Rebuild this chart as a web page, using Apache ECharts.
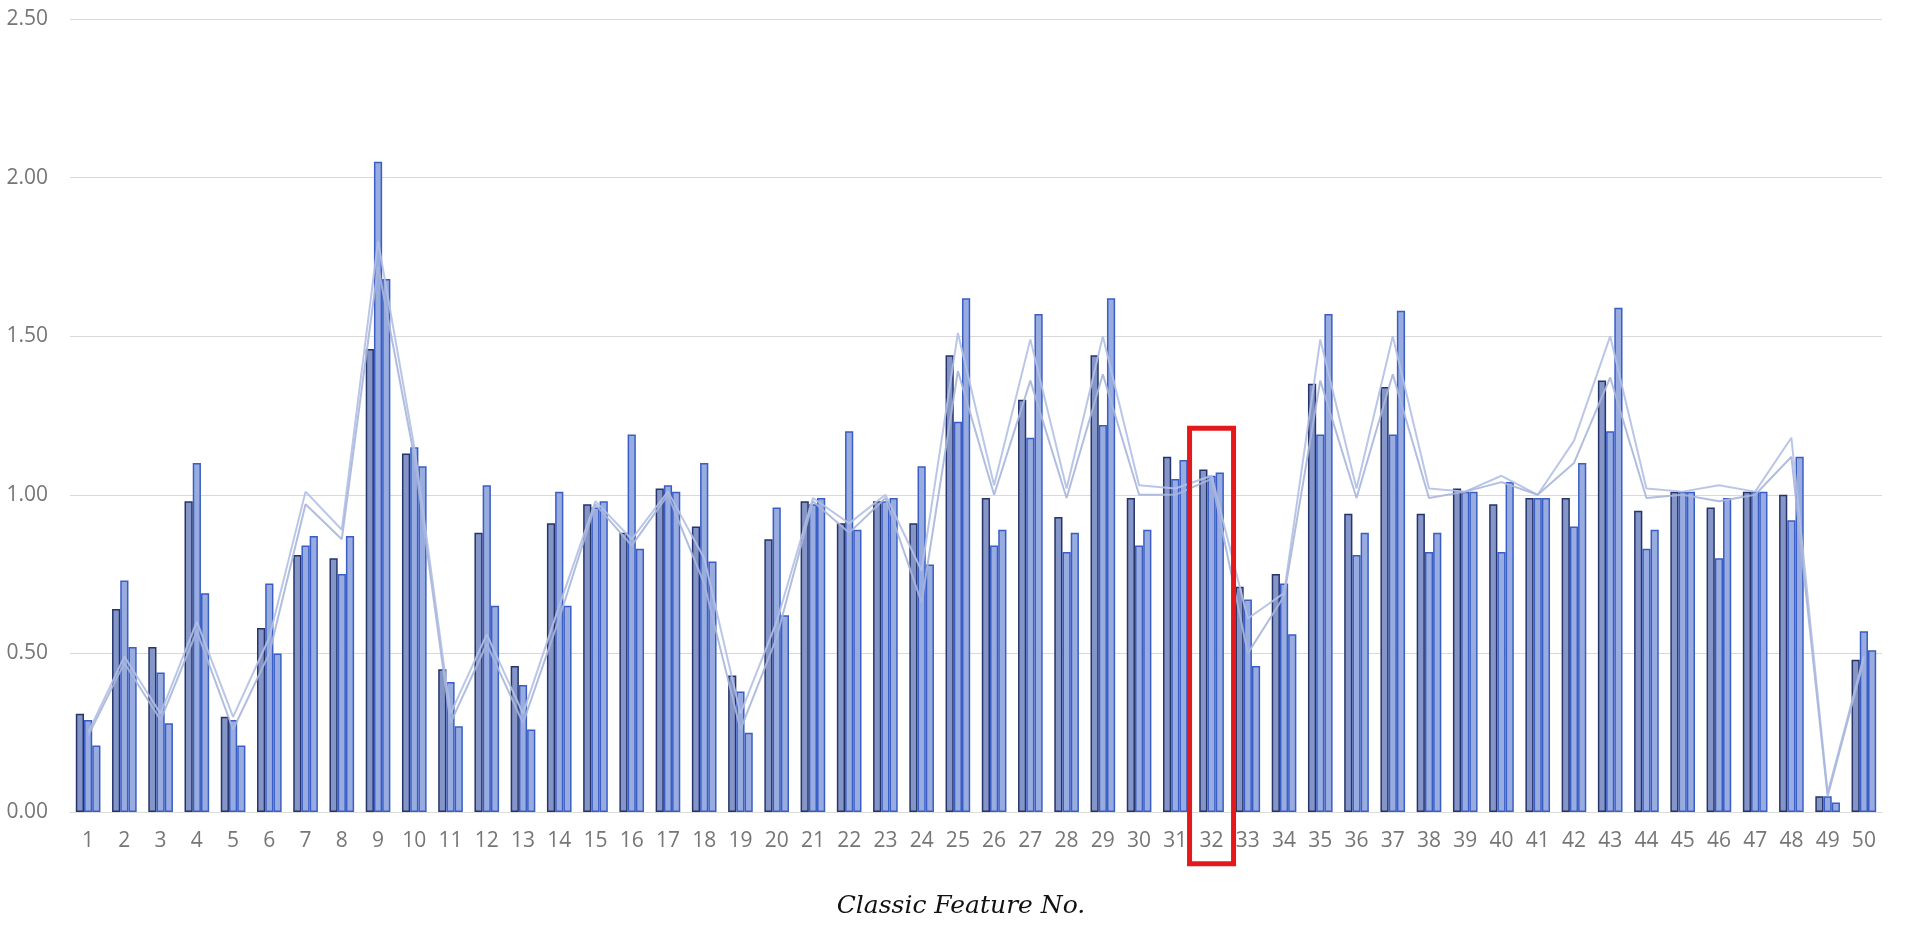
<!DOCTYPE html>
<html>
<head>
<meta charset="utf-8">
<script src="https://cdn.jsdelivr.net/npm/echarts@6/dist/echarts.min.js"></script>
<style>
html,body{margin:0;padding:0;background:#fff;}
#chart{width:1905px;height:925px;}
</style>
</head>
<body>
<div id="chart"></div>
<script>
const categories = Array.from({length: 50}, (_, i) => String(i + 1));
const yTicks = [0, 0.5, 1.0, 1.5, 2.0, 2.5];

const barA = [0.31,0.64,0.52,0.98,0.30,0.58,0.81,0.80,1.46,1.13,
              0.45,0.88,0.46,0.91,0.97,0.88,1.02,0.90,0.43,0.86,
              0.98,0.91,0.98,0.91,1.44,0.99,1.30,0.93,1.44,0.99,
              1.12,1.08,0.71,0.75,1.35,0.94,1.34,0.94,1.02,0.97,
              0.99,0.99,1.36,0.95,1.01,0.96,1.01,1.00,0.05,0.48];
const barB = [0.29,0.73,0.44,1.10,0.29,0.72,0.84,0.75,2.05,1.15,
              0.41,1.03,0.40,1.01,0.96,1.19,1.03,1.10,0.38,0.96,
              0.97,1.20,0.98,1.09,1.23,0.84,1.18,0.82,1.22,0.84,
              1.05,1.06,0.67,0.72,1.19,0.81,1.19,0.82,1.01,0.82,
              0.99,0.90,1.20,0.83,1.01,0.80,1.01,0.92,0.05,0.57];
const barC = [0.21,0.52,0.28,0.69,0.21,0.50,0.87,0.87,1.68,1.09,
              0.27,0.65,0.26,0.65,0.98,0.83,1.01,0.79,0.25,0.62,
              0.99,0.89,0.99,0.78,1.62,0.89,1.57,0.88,1.62,0.89,
              1.11,1.07,0.46,0.56,1.57,0.88,1.58,0.88,1.01,1.04,
              0.99,1.10,1.59,0.89,1.01,0.99,1.01,1.12,0.03,0.51];
const lineA = [0.25,0.49,0.31,0.60,0.30,0.55,1.01,0.89,1.80,1.15,
               0.31,0.56,0.31,0.65,0.98,0.86,1.01,0.80,0.31,0.60,
               0.99,0.91,1.00,0.76,1.51,1.03,1.49,1.02,1.50,1.03,
               1.02,1.06,0.61,0.69,1.49,1.02,1.50,1.02,1.01,1.06,
               1.00,1.17,1.50,1.02,1.01,1.03,1.01,1.18,0.06,0.49];
const lineB = [0.24,0.47,0.29,0.57,0.26,0.50,0.97,0.86,1.72,1.12,
               0.28,0.53,0.28,0.61,0.97,0.84,1.00,0.72,0.26,0.55,
               0.98,0.88,0.99,0.66,1.39,1.00,1.36,0.99,1.38,1.00,
               1.00,1.05,0.50,0.68,1.36,0.99,1.38,0.99,1.01,1.04,
               1.00,1.10,1.37,0.99,1.00,0.98,1.00,1.12,0.05,0.48];
const highlightCategory = '32';
const highlightTop = 1.21;
const highlightBottom = -0.163;

const chart = echarts.init(document.getElementById('chart'), null, {renderer: 'canvas'});

const barStyle1 = {color: '#8595c8', borderColor: '#25356a', borderWidth: 1.5};
const barStyle2 = {color: '#98acdf', borderColor: '#3a5ec6', borderWidth: 1.5};

const option = {
  animation: false,
  backgroundColor: '#ffffff',
  grid: {left: 70, right: 23, top: 19, bottom: 113, containLabel: false},
  xAxis: {
    type: 'category',
    data: categories,
    axisTick: {show: false},
    axisLine: {show: true, lineStyle: {color: '#dcdcdc', width: 1}},
    axisLabel: {color: '#767676', fontSize: 21, fontFamily: 'Open Sans', margin: 19},
    name: 'Classic Feature No.',
    nameLocation: 'middle',
    nameGap: 82,
    nameTextStyle: {fontFamily: 'DejaVu Serif', fontStyle: 'italic', fontSize: 25, color: '#111',
                    padding: [0, 30, 0, 0]}
  },
  yAxis: {
    type: 'value',
    min: yTicks[0],
    max: yTicks[yTicks.length - 1],
    interval: 0.5,
    axisLine: {show: false},
    axisTick: {show: false},
    splitLine: {lineStyle: {color: '#d9d9d9', width: 1}},
    axisLabel: {color: '#767676', fontSize: 21, fontFamily: 'Open Sans', margin: 22,
                formatter: v => v.toFixed(2)}
  },
  series: [
    {type: 'bar', data: barA, itemStyle: barStyle1, barGap: '0%', barCategoryGap: '32%', z: 2},
    {type: 'bar', data: barB, itemStyle: barStyle2, barGap: '0%', barCategoryGap: '32%', z: 2},
    {type: 'bar', data: barC, itemStyle: barStyle2, barGap: '0%', barCategoryGap: '32%', z: 2},
    {type: 'line', data: lineA, symbol: 'none', z: 5,
     lineStyle: {color: '#b3c0e6', width: 2, opacity: 0.9}},
    {type: 'line', data: lineB, symbol: 'none', z: 5,
     lineStyle: {color: '#a9b6dc', width: 2, opacity: 0.9}}
  ]
};
chart.setOption(option);

const cx = chart.convertToPixel({xAxisIndex: 0}, highlightCategory);
const yTop = chart.convertToPixel({yAxisIndex: 0}, highlightTop);
const yBot = chart.convertToPixel({yAxisIndex: 0}, highlightBottom);
const halfW = 22;
chart.setOption({
  graphic: [{
    type: 'rect', z: 100,
    shape: {x: cx - halfW, y: yTop, width: halfW * 2, height: yBot - yTop},
    style: {fill: 'none', stroke: '#e3191c', lineWidth: 5}
  }]
});
</script>
</body>
</html>
